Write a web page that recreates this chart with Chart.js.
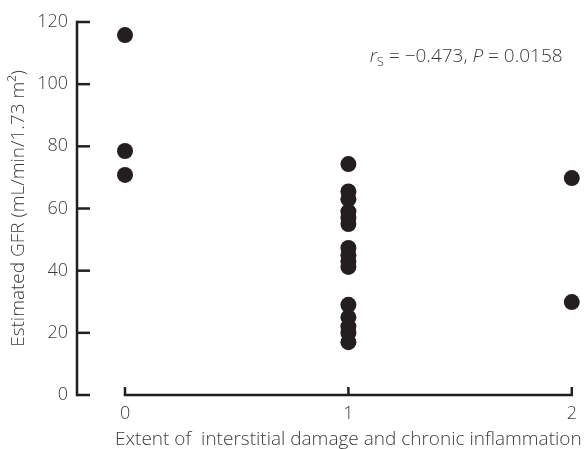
<!DOCTYPE html>
<html><head><meta charset="utf-8">
<script src="https://cdn.jsdelivr.net/npm/chart.js@4/dist/chart.umd.min.js"></script>
<style>html,body{margin:0;padding:0;background:#fff}#wrap{width:585px;height:449px}</style>
</head><body><div id="wrap"><canvas id="c" width="585" height="449"></canvas></div>
<script>
const categories = [0, 1, 2];
const categoryLabels = ['0', '1', '2'];
const gfrGroup0 = [115.8, 78.5, 70.8];
const gfrGroup1 = [74.3, 65.5, 63, 59, 57, 55, 47.3, 45, 43, 41.2, 29, 25, 22, 20, 17];
const gfrGroup2 = [69.8, 29.9];
const yTicks = [0, 20, 40, 60, 80, 100, 120];
const yTitle = 'Estimated GFR (mL/min/1.73 m\u00B2)';
const xTitle = 'Extent of  interstitial damage and chronic inflammation';
const statText = {r: 'r', sub: 'S', rest: ' = \u22120.473, ', p: 'P', rest2: ' = 0.0158'};

const groups = [gfrGroup0, gfrGroup1, gfrGroup2];
const points = [];
groups.forEach((g, i) => g.forEach(v => points.push({x: categories[i], y: v})));

const FONT = '"Open Sans", "Noto Sans", sans-serif';
const TXT = '#3c3c3c';
const AX = '#231f20';
const FS = 18;
const FT = 19;

const axesPlugin = {
  id: 'axes',
  beforeDatasetsDraw(chart) {
    const ctx = chart.ctx, xs = chart.scales.x, ys = chart.scales.y;
    ctx.save();
    ctx.strokeStyle = AX; ctx.lineWidth = 2.5; ctx.lineCap = 'butt';
    const yx = xs.getPixelForValue(xs.min);
    ctx.beginPath();
    ctx.moveTo(yx, ys.getPixelForValue(120) - 1.25);
    ctx.lineTo(yx, ys.getPixelForValue(0) + 1.25);
    ctx.stroke();
    yTicks.forEach(t => {
      const py = ys.getPixelForValue(t);
      ctx.beginPath(); ctx.moveTo(yx, py); ctx.lineTo(yx + 13, py); ctx.stroke();
    });
    const by = ys.getPixelForValue(0);
    const x0 = xs.getPixelForValue(categories[0]);
    const x2 = xs.getPixelForValue(categories[categories.length - 1]);
    ctx.beginPath(); ctx.moveTo(x0 - 1.25, by); ctx.lineTo(x2 + 1.25, by); ctx.stroke();
    categories.forEach(c => {
      const px = xs.getPixelForValue(c);
      ctx.beginPath(); ctx.moveTo(px, by); ctx.lineTo(px, by - 8); ctx.stroke();
    });
    ctx.fillStyle = TXT; ctx.textBaseline = 'middle';
    ctx.textAlign = 'center';
    ctx.font = '300 ' + FT + 'px ' + FONT;
    ctx.fillText(xTitle, xs.getPixelForValue(categories[1]), by + 45);
    ctx.textAlign = 'left';
    let tx = xs.getPixelForValue(1.095);
    const ty = ys.getPixelForValue(108.8);
    ctx.font = 'italic 300 ' + FT + 'px ' + FONT; ctx.fillText(statText.r, tx, ty); tx += ctx.measureText(statText.r).width;
    ctx.font = '300 13px ' + FONT; ctx.fillText(statText.sub, tx, ty + 5); tx += ctx.measureText(statText.sub).width;
    ctx.font = '300 ' + FT + 'px ' + FONT; ctx.fillText(statText.rest, tx, ty); tx += ctx.measureText(statText.rest).width;
    ctx.font = 'italic 300 ' + FT + 'px ' + FONT; ctx.fillText(statText.p, tx, ty); tx += ctx.measureText(statText.p).width;
    ctx.font = '300 ' + FT + 'px ' + FONT; ctx.fillText(statText.rest2, tx, ty);
    ctx.restore();
  }
};

new Chart(document.getElementById('c'), {
  type: 'scatter',
  data: { datasets: [{
    data: points,
    backgroundColor: '#231f20',
    borderColor: '#231f20',
    borderWidth: 0,
    pointRadius: 8,
    pointHoverRadius: 8,
    clip: false
  }]},
  options: {
    responsive: false,
    animation: false,
    events: [],
    layout: { autoPadding: false, padding: { top: 22, right: 4, left: 0, bottom: 0 } },
    plugins: { legend: { display: false }, tooltip: { enabled: false } },
    scales: {
      x: {
        type: 'linear', min: -0.215, max: 2.04,
        afterBuildTicks: s => { s.ticks = categories.map(v => ({value: v})); },
        afterFit: s => { s.height = 54; },
        grid: { display: false, drawTicks: false },
        border: { display: false },
        ticks: { padding: 8, color: TXT, font: { family: FONT, size: FS, weight: 300 }, callback: (v) => categoryLabels[categories.indexOf(v)] },
        title: { display: false }
      },
      y: {
        type: 'linear', min: 0, max: 120,
        afterBuildTicks: s => { s.ticks = yTicks.map(v => ({value: v})); },
        afterFit: s => { s.width = 77; },
        grid: { display: false, drawTicks: false },
        border: { display: false },
        ticks: { padding: 9, color: TXT, font: { family: FONT, size: FS, weight: 300 } },
        title: { display: true, text: yTitle, color: TXT, font: { family: FONT, size: FT, weight: 300 }, padding: { top: 7, bottom: 0 } }
      }
    }
  },
  plugins: [axesPlugin]
});
</script></body></html>
